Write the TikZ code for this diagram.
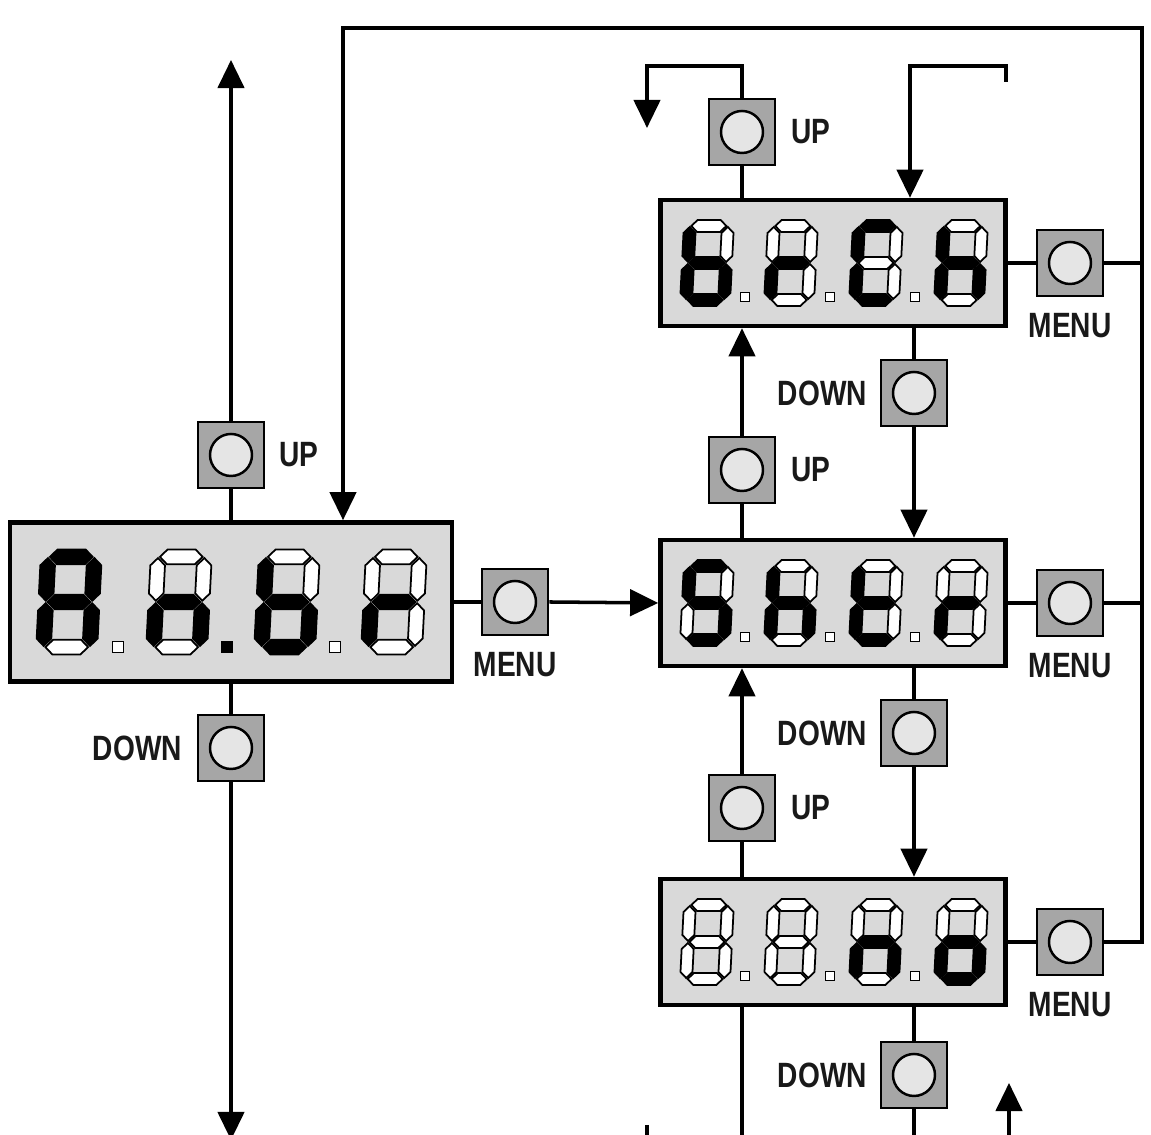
\documentclass[tikz,border=0pt]{standalone}
\usepackage{fontspec}
\newfontfamily\btnfont[FakeStretch=0.8]{Liberation Sans}
\usetikzlibrary{arrows.meta,positioning}
\newcommand{\segdigit}[3]{%
  \begin{scope}[shift={#1},scale=#2,xslant=0.05]
    \foreach \sx/\sy/\rt [count=\k from 0] in {0/0.37/0,0.19/0.185/90,0.19/-0.185/90,0/-0.37/0,-0.19/-0.185/90,-0.19/0.185/90,0/0/0}{
      \pgfmathtruncatemacro\segon{{#3}[\k]}
      \ifnum\segon=1 \def\segcol{black}\else\def\segcol{white}\fi
      \filldraw[fill=\segcol,line width=0.5pt,shift={(\sx,\sy)},rotate=\rt]
        (-0.175,0) -- (-0.115,0.06) -- (0.115,0.06) -- (0.175,0) -- (0.115,-0.06) -- (-0.115,-0.06) -- cycle;
    }
  \end{scope}}
\newcommand{\segdot}[3]{\filldraw[fill=#3,line width=0.5pt] #1 +(-#2,-#2) rectangle +(#2,#2);}

\begin{document}
\begin{tikzpicture}[
    display/.style={draw,line width=1.3pt,fill=black!15,inner sep=0pt},
    btn/.style={draw,line width=0.8pt,fill=black!35,minimum size=6.6mm,inner sep=0pt,
      path picture={\draw[line width=0.7pt,fill=black!10] (path picture bounding box.center) circle (2.1mm);}},
    lbl/.style={inner sep=0pt,font=\btnfont\bfseries\fontsize{10}{12}\selectfont,text=black!90},
    line/.style={line width=1pt,line join=miter},
    arr/.style={line,-{Triangle[length=8pt,width=7.5pt]}}]

    \useasboundingbox (0,0) rectangle (11.51,11.35);

    % displays
    \node[display,minimum width=4.42cm,minimum height=1.59cm] (dAnbr) at (2.31,5.33) {};
    \node[display,minimum width=3.45cm,minimum height=1.26cm] (dBrch) at (8.33,8.72) {};
    \node[display,minimum width=3.45cm,minimum height=1.26cm] (dShtr) at (8.33,5.32) {};
    \node[display,minimum width=3.45cm,minimum height=1.26cm] (dNo) at (8.33,1.93) {};

    \segdigit{(0.69,5.33)}{1.22}{1,1,1,0,1,1,1}
    \segdigit{(1.79,5.33)}{1.22}{0,0,1,0,1,0,1}
    \segdigit{(2.87,5.33)}{1.22}{0,0,1,1,1,1,1}
    \segdigit{(3.94,5.33)}{1.22}{0,0,0,0,1,0,1}
    \segdot{(1.18,4.88)}{0.055}{white}
    \segdot{(2.27,4.88)}{0.055}{black}
    \segdot{(3.35,4.88)}{0.055}{white}

    \segdigit{(7.07,8.72)}{1}{0,0,1,1,1,1,1}
    \segdigit{(7.91,8.72)}{1}{0,0,0,0,1,0,1}
    \segdigit{(8.76,8.72)}{1}{1,0,0,1,1,1,0}
    \segdigit{(9.61,8.72)}{1}{0,0,1,0,1,1,1}

    \segdigit{(7.07,5.32)}{1}{1,0,1,1,0,1,1}
    \segdigit{(7.91,5.32)}{1}{0,0,1,0,1,1,1}
    \segdigit{(8.76,5.32)}{1}{0,0,0,1,1,1,1}
    \segdigit{(9.61,5.32)}{1}{0,0,0,0,1,0,1}

    \segdigit{(7.07,1.93)}{1}{0,0,0,0,0,0,0}
    \segdigit{(7.91,1.93)}{1}{0,0,0,0,0,0,0}
    \segdigit{(8.76,1.93)}{1}{0,0,1,0,1,0,1}
    \segdigit{(9.61,1.93)}{1}{0,0,1,1,1,0,1}

    \foreach \y in {8.72,5.32,1.93}{
        \segdot{(7.45,\y-0.34)}{0.045}{white}
        \segdot{(8.30,\y-0.34)}{0.045}{white}
        \segdot{(9.15,\y-0.34)}{0.045}{white}
    }

    % buttons
    \node[btn] (bUpL) at (2.31,6.80) {};
    \node[btn] (bDnL) at (2.31,3.87) {};
    \node[btn] (bMenuA) at (5.15,5.33) {};
    \node[btn] (bUpT) at (7.42,10.03) {};
    \node[btn] (bMenuB) at (10.70,8.72) {};
    \node[btn] (bDnA) at (9.14,7.42) {};
    \node[btn] (bUpA) at (7.42,6.65) {};
    \node[btn] (bMenuS) at (10.70,5.32) {};
    \node[btn] (bDnB) at (9.14,4.02) {};
    \node[btn] (bUpB) at (7.42,3.27) {};
    \node[btn] (bMenuN) at (10.70,1.93) {};
    \node[btn] (bDnC) at (9.14,0.60) {};

    \node[lbl,right=1.3mm of bUpL] (tUpL) {UP};
    \node[lbl,left=1.4mm of bDnL] (tDnL) {DOWN};
    \node[lbl,below=1.5mm of bMenuA] (tMenuA) {MENU};
    \node[lbl,right=1.4mm of bUpT] (tUpT) {UP};
    \node[lbl,below=1.5mm of bMenuB] (tMenuB) {MENU};
    \node[lbl,left=1.2mm of bDnA] (tDnA) {DOWN};
    \node[lbl,right=1.4mm of bUpA] (tUpA) {UP};
    \node[lbl,below=1.5mm of bMenuS] (tMenuS) {MENU};
    \node[lbl,left=1.2mm of bDnB] (tDnB) {DOWN};
    \node[lbl,right=1.4mm of bUpB] (tUpB) {UP};
    \node[lbl,below=1.5mm of bMenuN] (tMenuN) {MENU};
    \node[lbl,left=1.2mm of bDnC] (tDnC) {DOWN};

    % free ends
    \coordinate (topL) at (2.31,10.75);
    \coordinate (botL) at (2.31,-0.05);
    \coordinate (retR) at (11.42,11.07);
    \coordinate (retL) at (3.43,11.07);
    \coordinate (upTurn) at (6.47,10.69);
    \coordinate (upEnd) at (6.47,10.07);
    \coordinate (hookEnd) at (10.06,10.53);
    \coordinate (hookTop) at (10.06,10.69);
    \coordinate (hookIn) at (9.10,10.69);
    \coordinate (offL) at (7.42,-0.05);
    \coordinate (wrapUp) at (10.09,-0.05);
    \coordinate (wrapTip) at (10.09,0.52);
    \coordinate (wrapDn) at (6.47,0.10);
    \coordinate (wrapOff) at (6.47,-0.05);

    % left column
    \draw[line] (dAnbr.north -| bUpL) -- (bUpL.south);
    \draw[arr] (bUpL.north) -- (topL);
    \draw[line] (dAnbr.south -| bDnL) -- (bDnL.north);
    \draw[arr] (bDnL.south) -- (botL);
    \draw[line] (dAnbr.east) -- (bMenuA.west);
    \draw[arr] (bMenuA.east) -- (dShtr.west);

    % menu return
    \draw[line] (dBrch.east) -- (bMenuB.west);
    \draw[line] (dShtr.east) -- (bMenuS.west);
    \draw[line] (dNo.east) -- (bMenuN.west);
    \draw[line] (bMenuB.east) -- (bMenuB.east -| retR);
    \draw[line] (bMenuS.east) -- (bMenuS.east -| retR);
    \draw[arr] (bMenuN.east) -- (bMenuN.east -| retR) -- (retR) -- (retL) -- (dAnbr.north -| retL);

    % top
    \draw[line] (dBrch.north -| bUpT) -- (bUpT.south);
    \draw[arr] (bUpT.north) -- (bUpT.north |- upTurn) -- (upTurn) -- (upEnd);
    \draw[arr] (hookEnd) -- (hookTop) -- (hookIn) -- (dBrch.north -| hookIn);

    % between displays
    \draw[line] (dShtr.north -| bUpA) -- (bUpA.south);
    \draw[arr] (bUpA.north) -- (dBrch.south -| bUpA);
    \draw[line] (dBrch.south -| bDnA) -- (bDnA.north);
    \draw[arr] (bDnA.south) -- (dShtr.north -| bDnA);
    \draw[line] (dNo.north -| bUpB) -- (bUpB.south);
    \draw[arr] (bUpB.north) -- (dShtr.south -| bUpB);
    \draw[line] (dShtr.south -| bDnB) -- (bDnB.north);
    \draw[arr] (bDnB.south) -- (dNo.north -| bDnB);

    % bottom
    \draw[line] (dNo.south -| offL) -- (offL);
    \draw[line] (dNo.south -| bDnC) -- (bDnC.north);
    \draw[line] (bDnC.south) -- (bDnC.south |- offL);
    \draw[arr] (wrapUp) -- (wrapTip);
    \draw[line] (wrapDn) -- (wrapOff);
\end{tikzpicture}
\end{document}
